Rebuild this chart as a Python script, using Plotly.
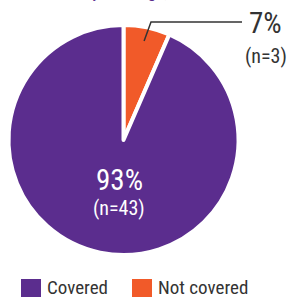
import math
import plotly.graph_objects as go

labels = ["Not covered", "Covered"]
counts = [3, 43]
colors = ["#F15A29", "#5B2D8E"]
title_text = "Policy coverage, 2019"
legend_order = ["Covered", "Not covered"]

W, H = 288, 297
FONT = "Roboto Condensed, Liberation Sans Narrow, DejaVu Sans Condensed, Roboto, sans-serif"

total = sum(counts)
pcts = [round(100 * c / total) for c in counts]
color_of = dict(zip(labels, colors))

# pie geometry (pixels)
cx, cy, R = 123.5, 140.0, 115.0

def px(x):
    return x / W

def py(y):
    return 1 - y / H

fig = go.Figure(go.Pie(
    labels=labels,
    values=counts,
    sort=False,
    direction="clockwise",
    rotation=0,
    marker=dict(colors=colors, line=dict(color="white", width=4)),
    textinfo="none",
    hoverinfo="label+percent+value",
    showlegend=False,
    domain=dict(x=[px(cx - R), px(cx + R)], y=[py(cy + R), py(cy - R)]),
))

# leader line from the small slice, angle computed from data
frac_small = counts[0] / total
mid = math.radians(360 * frac_small / 2)
sx = cx + 0.88 * R * math.sin(mid)
sy = cy - 0.88 * R * math.cos(mid)
fig.add_shape(type="path",
              path=f"M {px(sx)} {py(sy)} L {px(151)} {py(22)} L {px(242)} {py(22)}",
              xref="paper", yref="paper",
              line=dict(color="#333333", width=1.5))

annotations = [
    dict(x=px(119), y=py(180), text=f"{pcts[1]}%", font=dict(size=29, color="white")),
    dict(x=px(119), y=py(208), text=f"(n={counts[1]})", font=dict(size=20, color="white")),
    dict(x=px(265), y=py(23), text=f"{pcts[0]}%", font=dict(size=29, color="#333333")),
    dict(x=px(266), y=py(56), text=f"(n={counts[0]})", font=dict(size=20, color="#333333")),
    dict(x=px(57), y=py(4), text=title_text, yanchor="bottom", xanchor="left",
         font=dict(size=17, color=color_of["Covered"])),
]

# custom legend
leg_x = [21, 132]
for i, lab in enumerate(legend_order):
    x0 = leg_x[i]
    fig.add_shape(type="rect", xref="paper", yref="paper",
                  x0=px(x0), x1=px(x0 + 20), y0=py(300), y1=py(279),
                  fillcolor=color_of[lab], line=dict(width=0))
    annotations.append(dict(x=px(x0 + 24), y=py(287), text=lab, xanchor="left",
                            font=dict(size=19, color="#333333")))

for a in annotations:
    a.setdefault("xanchor", "center")
    a.setdefault("yanchor", "middle")
    a.update(xref="paper", yref="paper", showarrow=False)
    a["font"]["family"] = FONT

fig.update_layout(
    width=W, height=H,
    margin=dict(l=0, r=0, t=0, b=0),
    paper_bgcolor="white",
    plot_bgcolor="white",
    annotations=annotations,
    font=dict(family=FONT),
)

fig.write_html("out.html", config={"displayModeBar": False},
               post_script="document.body.style.margin='0';document.body.style.overflow='hidden';")
